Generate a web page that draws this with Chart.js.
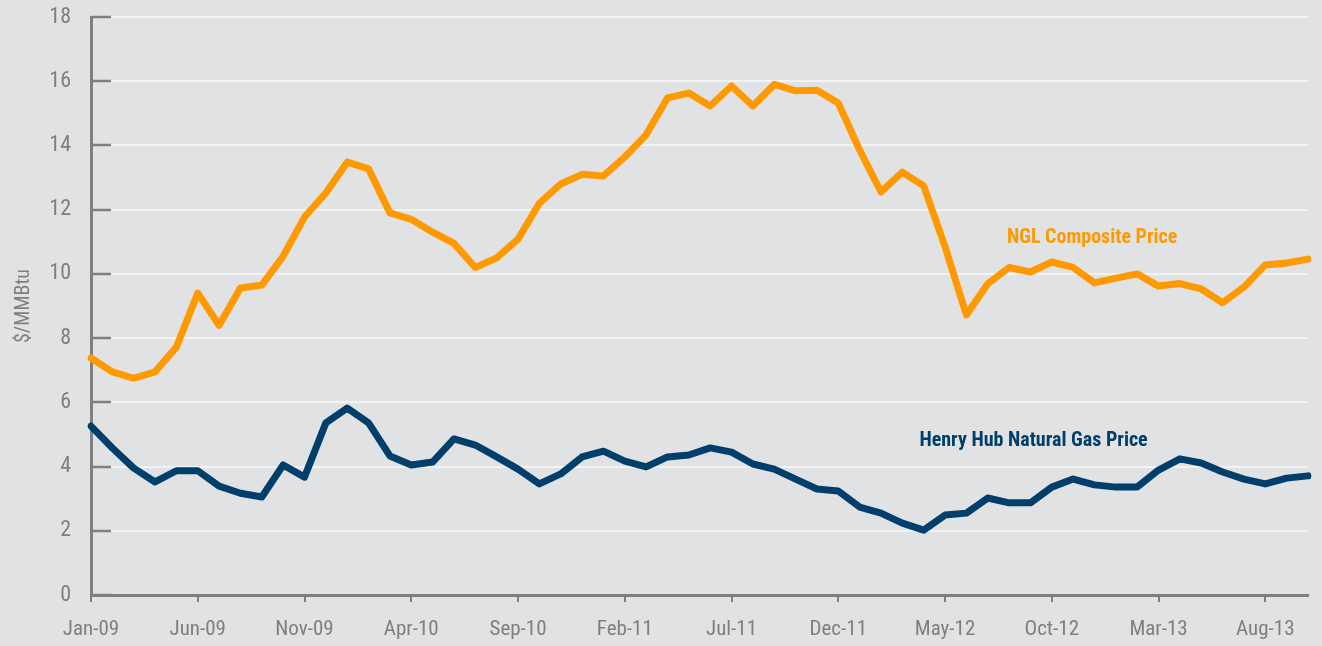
<!DOCTYPE html>
<html>
<head>
<meta charset="utf-8">
<script src="https://cdn.jsdelivr.net/npm/chart.js@4.4.1/dist/chart.umd.min.js"></script>
<style>
  html, body { margin: 0; padding: 0; background: #e1e2e4; }
  #wrap { width: 1322px; height: 646px; position: relative; }
</style>
</head>
<body>
<div id="wrap"><canvas id="c" width="1322" height="646"></canvas></div>
<script>
const months = [
  "Jan-09","Feb-09","Mar-09","Apr-09","May-09","Jun-09","Jul-09","Aug-09","Sep-09","Oct-09","Nov-09","Dec-09",
  "Jan-10","Feb-10","Mar-10","Apr-10","May-10","Jun-10","Jul-10","Aug-10","Sep-10","Oct-10","Nov-10","Dec-10",
  "Jan-11","Feb-11","Mar-11","Apr-11","May-11","Jun-11","Jul-11","Aug-11","Sep-11","Oct-11","Nov-11","Dec-11",
  "Jan-12","Feb-12","Mar-12","Apr-12","May-12","Jun-12","Jul-12","Aug-12","Sep-12","Oct-12","Nov-12","Dec-12",
  "Jan-13","Feb-13","Mar-13","Apr-13","May-13","Jun-13","Jul-13","Aug-13","Sep-13","Oct-13"
];
const nglPrice = [
  7.38, 6.95, 6.75, 6.95, 7.72, 9.40, 8.40, 9.56, 9.65, 10.55, 11.77, 12.52,
  13.48, 13.27, 11.90, 11.70, 11.30, 10.95, 10.20, 10.50, 11.08, 12.20, 12.80, 13.10,
  13.05, 13.64, 14.33, 15.48, 15.63, 15.23, 15.85, 15.23, 15.90, 15.70, 15.72, 15.32,
  13.86, 12.55, 13.17, 12.74, 10.85, 8.72, 9.69, 10.20, 10.06, 10.37, 10.20, 9.72,
  9.87, 10.00, 9.62, 9.70, 9.53, 9.10, 9.59, 10.28, 10.34, 10.46
];
const henryHubPrice = [
  5.26, 4.58, 3.95, 3.52, 3.87, 3.87, 3.39, 3.17, 3.05, 4.05, 3.67, 5.36,
  5.82, 5.36, 4.33, 4.05, 4.14, 4.86, 4.67, 4.30, 3.92, 3.46, 3.77, 4.30,
  4.48, 4.17, 3.99, 4.30, 4.36, 4.58, 4.45, 4.08, 3.92, 3.61, 3.30, 3.24,
  2.74, 2.55, 2.24, 2.02, 2.49, 2.55, 3.02, 2.87, 2.87, 3.36, 3.61, 3.43,
  3.36, 3.36, 3.89, 4.24, 4.11, 3.83, 3.61, 3.46, 3.64, 3.71
];
const tickEvery = 5;
const yTicks = [0, 2, 4, 6, 8, 10, 12, 14, 16, 18];
const seriesNames = ["NGL Composite Price", "Henry Hub Natural Gas Price"];
const yTitle = "$/MMBtu";

const ORANGE = "#ff9900";
const NAVY = "#003f6b";
const AXIS = "#7f7f7f";
const TXT = "#7f7f7f";
const FONT = "'Liberation Sans Narrow', 'Arial Narrow', 'Roboto Condensed', 'Liberation Sans', sans-serif";

const insideTicks = {
  id: "insideTicks",
  afterDatasetsDraw(chart) {
    const ctx = chart.ctx, y = chart.scales.y, x = chart.scales.x;
    ctx.save();
    ctx.strokeStyle = AXIS;
    ctx.lineWidth = 2.5;
    yTicks.forEach(v => {
      const py = Math.round(y.getPixelForValue(v));
      ctx.beginPath();
      ctx.moveTo(x.left, py);
      ctx.lineTo(x.left + 20, py);
      ctx.stroke();
    });
    ctx.restore();
  }
};

const seriesLabels = {
  id: "seriesLabels",
  afterDatasetsDraw(chart) {
    const ctx = chart.ctx, y = chart.scales.y, x = chart.scales.x;
    ctx.save();
    ctx.font = "bold 20px " + FONT;
    ctx.textBaseline = "middle";
    ctx.textAlign = "left";
    ctx.fillStyle = ORANGE;
    ctx.fillText(seriesNames[0], x.getPixelForValue(42.9), y.getPixelForValue(11.12));
    ctx.fillStyle = NAVY;
    ctx.fillText(seriesNames[1], x.getPixelForValue(38.8), y.getPixelForValue(4.8));
    ctx.restore();
  }
};

new Chart(document.getElementById("c"), {
  type: "line",
  data: {
    labels: months,
    datasets: [
      { label: seriesNames[0], data: nglPrice, borderColor: ORANGE, borderWidth: 7, pointRadius: 0, tension: 0, borderJoinStyle: "round", borderCapStyle: "round" },
      { label: seriesNames[1], data: henryHubPrice, borderColor: NAVY, borderWidth: 7, pointRadius: 0, tension: 0, borderJoinStyle: "round", borderCapStyle: "round" }
    ]
  },
  options: {
    responsive: false,
    animation: false,
    events: [],
    layout: { padding: { left: 0, right: 14, top: 17, bottom: 0 } },
    plugins: { legend: { display: false }, tooltip: { enabled: false } },
    scales: {
      x: {
        type: "category",
        offset: false,
        afterFit: (s) => { s.height = 51; },
        border: { display: true, color: AXIS, width: 3 },
        grid: { drawOnChartArea: false, drawTicks: true, tickLength: 7, color: AXIS, lineWidth: 2 },
        ticks: {
          autoSkip: false, maxRotation: 0, color: TXT, padding: 15,
          font: { family: FONT, size: 21 },
          callback: function(v, i) { return i % tickEvery === 0 ? months[i] : null; }
        }
      },
      y: {
        min: 0, max: 18,
        afterBuildTicks: (s) => { s.ticks = yTicks.map(v => ({ value: v })); },
        afterFit: (s) => { s.width = 91; },
        border: { display: true, color: AXIS, width: 3 },
        grid: { color: "#f3f3f4", lineWidth: 2, drawTicks: true, tickLength: 20, tickColor: "rgba(0,0,0,0)" },
        ticks: { color: TXT, padding: 0, font: { family: FONT, size: 22 } },
        title: { display: true, text: yTitle, color: TXT, font: { family: FONT, size: 20 }, padding: { top: 12, bottom: 0 } }
      }
    }
  },
  plugins: [insideTicks, seriesLabels]
});
</script>
</body>
</html>
